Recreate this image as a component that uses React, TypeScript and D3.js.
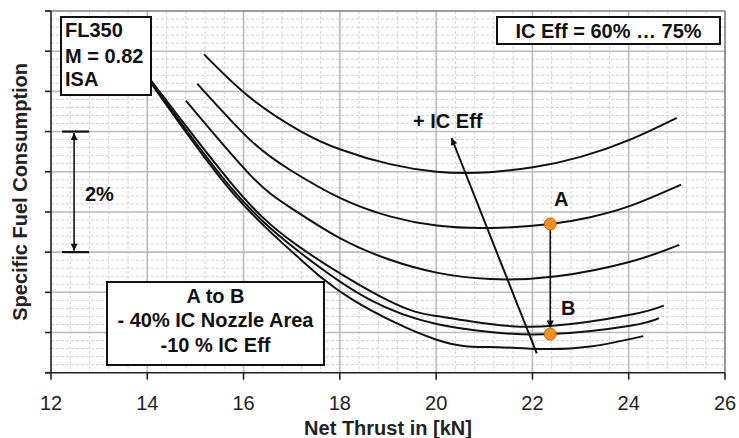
import React from "react";
import * as d3 from "d3";

const WIDTH = 739;
const HEIGHT = 438;
const PLOT = { left: 51, right: 725, top: 11, bottom: 372.7 };
const FONT = "'Liberation Sans', Arial, Helvetica, sans-serif";

// Net thrust axis [kN]
const thrustDomain: [number, number] = [12, 26];
const thrustTicks = [12, 14, 16, 18, 20, 22, 24, 26];
// SFC axis in grid steps (one step = 2/3 % SFC), no numeric labels
const sfcDomain: [number, number] = [0, 9];
const sfcTicks = [0, 1, 2, 3, 4, 5, 6, 7, 8, 9];

// SFC lines, one per intercooler efficiency: [net thrust kN, relative SFC]
const sfcEff75: [number, number][] = [
  [15.18, 7.92], [16.13, 6.85], [17.17, 6.02], [18.0, 5.56], [19.04, 5.19],
  [20.01, 5.0], [20.6, 4.97], [21.12, 4.99], [22.01, 5.11], [23.0, 5.37], [24.03, 5.8], [25.0, 6.34],
];
const sfcEff72: [number, number][] = [
  [15.04, 7.19], [16.13, 5.8], [16.96, 5.05], [18.0, 4.35], [19.04, 3.89],
  [20.01, 3.66], [21.12, 3.6], [22.37, 3.7], [23.2, 3.87], [24.03, 4.15], [25.09, 4.68],
];
const sfcEff69: [number, number][] = [
  [14.8, 6.77], [16.13, 4.93], [16.96, 4.12], [18.0, 3.35], [19.04, 2.81],
  [20.01, 2.49], [21.12, 2.33], [22.51, 2.4], [24.03, 2.76], [25.05, 3.18],
];
const sfcEff66: [number, number][] = [
  [14.0, 7.39], [15.72, 4.75], [17.1, 3.18], [18.98, 1.81], [20.01, 1.41],
  [21.12, 1.21], [22.37, 1.16], [24.03, 1.44], [24.73, 1.67],
];
const sfcEff63: [number, number][] = [
  [14.0, 7.37], [15.72, 4.63], [17.1, 3.06], [18.63, 1.81], [20.01, 1.21],
  [21.12, 1.01], [22.37, 0.96], [24.03, 1.17], [24.63, 1.36],
];
const sfcEff60: [number, number][] = [
  [14.0, 7.34], [15.72, 4.55], [17.1, 2.91], [18.27, 1.81],
  [20.01, 0.82], [21.12, 0.64], [22.16, 0.59], [23.2, 0.65], [24.3, 0.91],
];
const sfcSeries = [sfcEff75, sfcEff72, sfcEff69, sfcEff66, sfcEff63, sfcEff60];

// Operating points A (before) and B (after nozzle area / efficiency change)
const pointLabels = ["A", "B"];
const pointThrust = [22.37, 22.37];
const pointSfc = [3.7, 0.96];

// "+ IC Eff" trend arrow: tail, head
const effArrow: [number, number][] = [[22.09, 0.48], [20.32, 5.84]];

// 2 % scale bracket: thrust span of the end bars, thrust of the arrow, SFC ends
const bracketThrust = [12.23, 12.79];
const bracketArrowThrust = 12.48;
const bracketSfc = [6, 3];

export default function App() {
  const x = d3.scaleLinear().domain(thrustDomain).range([PLOT.left, PLOT.right]);
  const y = d3.scaleLinear().domain(sfcDomain).range([PLOT.bottom, PLOT.top]);

  const line = d3
    .line<[number, number]>()
    .x((d) => x(d[0]))
    .y((d) => y(d[1]))
    .curve(d3.curveNatural);

  const minorX = d3.range(thrustDomain[0], thrustDomain[1] + 1e-9, 0.4);
  const minorY = d3.range(sfcDomain[0], sfcDomain[1] + 1e-9, 0.2);

  const r = 6;
  const ax = x(pointThrust[0]);
  const ay = y(pointSfc[0]);
  const by = y(pointSfc[1]);

  return (
    <svg
      width={WIDTH}
      height={HEIGHT}
      style={{ position: "absolute", left: 0, top: 0, background: "#fff" }}
      fontFamily={FONT}
    >
      <defs>
        <marker
          id="head"
          viewBox="0 0 10 10"
          refX="10"
          refY="5"
          markerUnits="userSpaceOnUse"
          markerWidth="9"
          markerHeight="7"
          orient="auto-start-reverse"
        >
          <path d="M0,0 L10,5 L0,10 z" fill="#111" />
        </marker>
      </defs>

      {/* minor grid */}
      <g stroke="#d2d2d2" strokeWidth={1} strokeDasharray="3,2">
        {minorX.map((v, i) => (
          <line key={"mx" + i} x1={x(v)} x2={x(v)} y1={PLOT.top} y2={PLOT.bottom} />
        ))}
        {minorY.map((v, i) => (
          <line key={"my" + i} x1={PLOT.left} x2={PLOT.right} y1={y(v)} y2={y(v)} />
        ))}
      </g>
      {/* major grid */}
      <g stroke="#bdbdbd" strokeWidth={1.6}>
        {thrustTicks.slice(1, -1).map((v) => (
          <line key={"gx" + v} x1={x(v)} x2={x(v)} y1={PLOT.top} y2={PLOT.bottom} />
        ))}
        {sfcTicks.slice(1, -1).map((v) => (
          <line key={"gy" + v} x1={PLOT.left} x2={PLOT.right} y1={y(v)} y2={y(v)} />
        ))}
      </g>
      {/* frame */}
      <g stroke="#808080" strokeWidth={1.6} fill="none">
        <line x1={PLOT.left - 6} x2={PLOT.right} y1={PLOT.top} y2={PLOT.top} />
        <line x1={PLOT.right} x2={PLOT.right} y1={PLOT.top} y2={PLOT.bottom} />
      </g>
      {/* axes */}
      <g stroke="#222" strokeWidth={1.6}>
        <line x1={PLOT.left} x2={PLOT.left} y1={PLOT.top} y2={PLOT.bottom} />
        <line x1={PLOT.left - 6} x2={PLOT.right} y1={PLOT.bottom} y2={PLOT.bottom} />
        {sfcTicks.map((v) => (
          <line key={"ty" + v} x1={PLOT.left - 6} x2={PLOT.left} y1={y(v)} y2={y(v)} />
        ))}
        {thrustTicks.map((v) => (
          <line key={"tx" + v} x1={x(v)} x2={x(v)} y1={PLOT.bottom} y2={PLOT.bottom + 7} />
        ))}
      </g>
      <g fontSize={20} fill="#222" textAnchor="middle">
        {thrustTicks.map((v) => (
          <text key={"lx" + v} x={x(v)} y={410}>
            {v}
          </text>
        ))}
      </g>
      <text
        x={(PLOT.left + PLOT.right) / 2}
        y={435}
        fontSize={20}
        fontWeight="bold"
        textAnchor="middle"
        fill="#222"
      >
        Net Thrust in [kN]
      </text>
      <text
        transform={`translate(27,${(PLOT.top + PLOT.bottom) / 2}) rotate(-90)`}
        fontSize={20}
        fontWeight="bold"
        textAnchor="middle"
        fill="#222"
      >
        Specific Fuel Consumption
      </text>

      {/* SFC lines */}
      <g fill="none" stroke="#111" strokeWidth={2}>
        {sfcSeries.map((s, i) => (
          <path key={"s" + i} d={line(s) ?? ""} />
        ))}
      </g>

      {/* + IC Eff trend arrow */}
      <line
        x1={x(effArrow[0][0])}
        y1={y(effArrow[0][1])}
        x2={x(effArrow[1][0])}
        y2={y(effArrow[1][1])}
        stroke="#111"
        strokeWidth={2}
        markerEnd="url(#head)"
      />
      <text x={413} y={128} fontSize={20} fontWeight="bold" fill="#111">
        + IC Eff
      </text>

      {/* A -> B */}
      <line
        x1={ax}
        x2={ax}
        y1={ay}
        y2={by - r - 0.5}
        stroke="#111"
        strokeWidth={1.6}
        markerEnd="url(#head)"
      />
      {pointLabels.map((lab, i) => (
        <circle
          key={"p" + lab}
          cx={x(pointThrust[i])}
          cy={y(pointSfc[i])}
          r={r}
          fill="#f7901e"
          stroke="#c0630a"
          strokeWidth={1}
        />
      ))}
      <text x={ax + 11} y={ay - 18} fontSize={20} fontWeight="bold" fill="#111" textAnchor="middle">
        {pointLabels[0]}
      </text>
      <text x={ax + 18} y={by - 19} fontSize={20} fontWeight="bold" fill="#111" textAnchor="middle">
        {pointLabels[1]}
      </text>

      {/* 2 % bracket */}
      <g stroke="#111">
        {bracketSfc.map((v) => (
          <line
            key={"b" + v}
            x1={x(bracketThrust[0])}
            x2={x(bracketThrust[1])}
            y1={y(v)}
            y2={y(v)}
            strokeWidth={2.2}
          />
        ))}
        <line
          x1={x(bracketArrowThrust)}
          x2={x(bracketArrowThrust)}
          y1={y(bracketSfc[0]) + 1.5}
          y2={y(bracketSfc[1]) - 1.5}
          strokeWidth={1.6}
          markerStart="url(#head)"
          markerEnd="url(#head)"
        />
      </g>
      <text x={85} y={201} fontSize={20} fontWeight="bold" fill="#111">
        2%
      </text>

      {/* boxes */}
      <g fontWeight="bold" fontSize={20} fill="#111">
        <rect x={61} y={17} width={90} height={78} fill="#fff" stroke="#111" strokeWidth={2} />
        <text x={65} y={37}>FL350</text>
        <text x={65} y={63}>M = 0.82</text>
        <text x={65} y={86}>ISA</text>

        <rect x={497} y={17} width={223} height={27} fill="#fff" stroke="#111" strokeWidth={2} />
        <text x={608.5} y={38} textAnchor="middle">
          IC Eff = 60% … 75%
        </text>

        <rect x={107} y={282} width={217} height={83} fill="#fff" stroke="#111" strokeWidth={2} />
        <text x={215.5} y={303} textAnchor="middle">
          A to B
        </text>
        <text x={215.5} y={327} textAnchor="middle">
          - 40% IC Nozzle Area
        </text>
        <text x={215.5} y={352} textAnchor="middle">
          -10 % IC Eff
        </text>
      </g>
    </svg>
  );
}
